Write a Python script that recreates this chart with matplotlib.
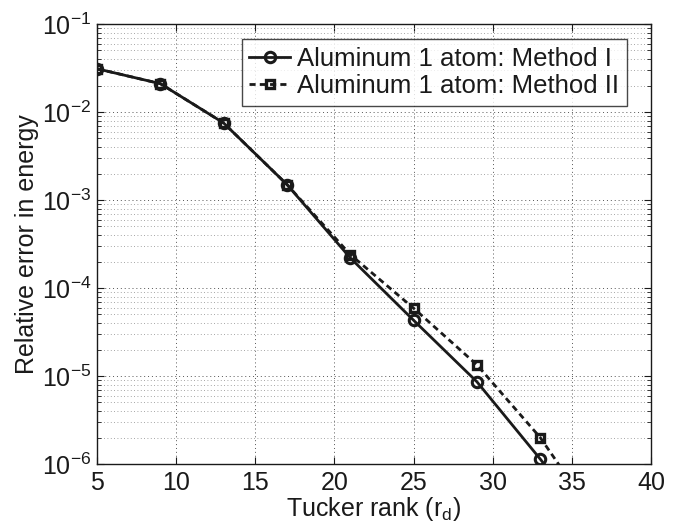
import matplotlib
matplotlib.use("Agg")
import matplotlib.pyplot as plt
from matplotlib.ticker import LogLocator, NullFormatter, MultipleLocator

plt.rcParams['font.family'] = ['Liberation Sans', 'DejaVu Sans']
plt.rcParams['mathtext.fontset'] = 'custom'
plt.rcParams['mathtext.rm'] = 'Liberation Sans'
plt.rcParams['mathtext.it'] = 'Liberation Sans:italic'
plt.rcParams['mathtext.default'] = 'regular'

rank = [5, 9, 13, 17, 21, 25, 29, 33, 37]
method1 = [0.031, 0.021, 0.0075, 0.0015, 2.2e-4, 4.3e-5, 8.6e-6, 1.14e-6, 1.3e-7]
method2 = [0.031, 0.021, 0.0075, 0.0015, 2.4e-4, 5.9e-5, 1.34e-5, 2.0e-6, 1.8e-7]
labels = ['Aluminum 1 atom: Method I', 'Aluminum 1 atom: Method II']

FS = 18
LFS = 18.5
fig = plt.figure(figsize=(6.81, 5.28), dpi=100)
ax = fig.add_axes([97/681, 1-464/528, (651-97)/681, (464-24)/528])

ax.semilogy(rank, method1, '-', color='#1a1a1a', lw=2.0, marker='o', ms=7.5,
            mfc='none', mew=2.2, label=labels[0], zorder=3)
ax.semilogy(rank, method2, '--', color='#1a1a1a', lw=2.0, marker='s', ms=6,
            mfc='none', mew=2.4, label=labels[1], dashes=(2.2, 1.5), zorder=3)

ax.set_xlim(5, 40)
ax.set_ylim(1e-6, 1e-1)
ax.xaxis.set_major_locator(MultipleLocator(5))
ax.yaxis.set_major_locator(LogLocator(base=10, numticks=10))
ax.yaxis.set_minor_locator(LogLocator(base=10, subs=range(2, 10), numticks=20))
ax.yaxis.set_minor_formatter(NullFormatter())

ax.grid(True, which='major', linestyle=(0, (1, 3)), color='#555555', lw=0.7)
ax.grid(True, which='minor', axis='y', linestyle=(0, (1, 3)), color='#888888', lw=0.6)

ax.tick_params(which='both', direction='in', top=True, right=True, labelsize=FS,
               color='#1a1a1a', labelcolor='#1a1a1a')
ax.tick_params(axis='x', which='major', length=5, width=0.8, pad=5)
ax.tick_params(axis='y', which='major', length=5, width=0.8, pad=4)
ax.tick_params(which='minor', length=3, width=0.6)
for s in ax.spines.values():
    s.set_color('#1a1a1a')
    s.set_linewidth(1.0)

ax.set_xlabel('Tucker rank (r$_d$)', fontsize=FS, color='#1a1a1a', labelpad=0)
ax.set_ylabel('Relative error in energy', fontsize=FS, color='#1a1a1a', labelpad=2)

leg = ax.legend(loc='upper right', bbox_to_anchor=(627/681, 1-39/528),
                bbox_transform=fig.transFigure, borderaxespad=0, fontsize=LFS,
                frameon=True, fancybox=False, handlelength=1.6, handletextpad=0.27,
                borderpad=0.3, labelspacing=0.12, edgecolor='#1a1a1a')
leg.get_frame().set_linewidth(1.0)
for t in leg.get_texts():
    t.set_color('#1a1a1a')

fig.savefig('out.png', dpi=100)
